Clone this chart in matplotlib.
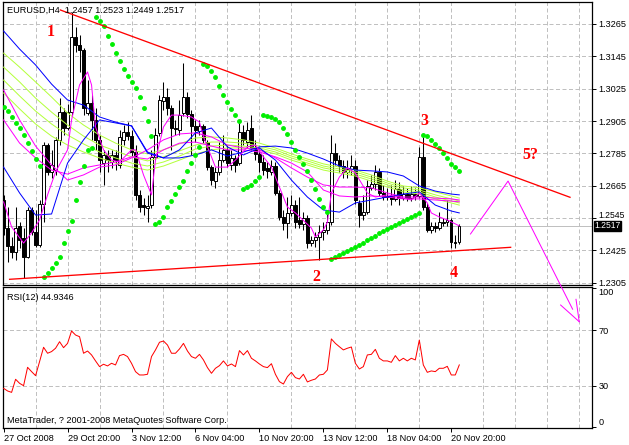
import numpy as np
import matplotlib
matplotlib.use("Agg")
import matplotlib.pyplot as plt
from matplotlib.ticker import MultipleLocator, FuncFormatter
from matplotlib.transforms import blended_transform_factory, ScaledTranslation

plt.rcParams["font.family"] = ["Liberation Sans", "DejaVu Sans"]

# EURUSD H4 bars, 27 Oct 2008 04:00 .. 21 Nov 2008 04:00
opens = [1.2612, 1.2508, 1.2441, 1.2419, 1.2516, 1.2471, 1.2401, 1.2575, 1.2493, 1.2445,
         1.2597, 1.2816, 1.2716, 1.2723, 1.2835, 1.2938, 1.2879, 1.2938, 1.3217, 1.3187,
         1.3168, 1.2935, 1.2972, 1.2909, 1.2835, 1.2749, 1.2779, 1.2753, 1.2779, 1.2742,
         1.2835, 1.2864, 1.2849, 1.2790, 1.2631, 1.2593, 1.2582, 1.2593, 1.2772, 1.2861,
         1.2979, 1.2994, 1.2953, 1.2879, 1.2872, 1.2935, 1.2994, 1.2931, 1.2887, 1.2868,
         1.2887, 1.2827, 1.2734, 1.2682, 1.2716, 1.2760, 1.2798, 1.2742, 1.2768, 1.2749,
         1.2864, 1.2827, 1.2879, 1.2805, 1.2783, 1.2753, 1.2731, 1.2716, 1.2738, 1.2638,
         1.2549, 1.2527, 1.2564, 1.2593, 1.2538, 1.2523, 1.2545, 1.2452, 1.2464, 1.2475,
         1.2493, 1.2501, 1.2530, 1.2786, 1.2760, 1.2738, 1.2716, 1.2727, 1.2738, 1.2601,
         1.2556, 1.2567, 1.2657, 1.2671, 1.2716, 1.2638, 1.2623, 1.2627, 1.2616, 1.2653,
         1.2619, 1.2634, 1.2619, 1.2634, 1.2627, 1.2772, 1.2586, 1.2501, 1.2516, 1.2508,
         1.2530, 1.2530, 1.2538, 1.2456, 1.2457]
highs = [1.2631, 1.2586, 1.2475, 1.2586, 1.2530, 1.2508, 1.2586, 1.2586, 1.2575, 1.2612,
         1.2827, 1.2823, 1.2798, 1.2846, 1.2990, 1.2953, 1.2968, 1.3309, 1.3254, 1.3224,
         1.3176, 1.3057, 1.3002, 1.2953, 1.2853, 1.2798, 1.2798, 1.2798, 1.2798, 1.2872,
         1.2890, 1.2901, 1.2872, 1.2816, 1.2649, 1.2619, 1.2631, 1.2798, 1.2879, 1.3002,
         1.3050, 1.3028, 1.2964, 1.2909, 1.2983, 1.3120, 1.3013, 1.2946, 1.2909, 1.2909,
         1.2894, 1.2835, 1.2742, 1.2734, 1.2827, 1.2853, 1.2816, 1.2798, 1.2779, 1.2909,
         1.2890, 1.2901, 1.2927, 1.2835, 1.2805, 1.2779, 1.2753, 1.2760, 1.2753, 1.2649,
         1.2575, 1.2623, 1.2631, 1.2612, 1.2623, 1.2567, 1.2556, 1.2478, 1.2493, 1.2519,
         1.2530, 1.2560, 1.2853, 1.2823, 1.2779, 1.2760, 1.2760, 1.2779, 1.2760, 1.2612,
         1.2631, 1.2686, 1.2705, 1.2742, 1.2731, 1.2668, 1.2657, 1.2668, 1.2686, 1.2679,
         1.2664, 1.2657, 1.2664, 1.2657, 1.2809, 1.2846, 1.2601, 1.2530, 1.2530, 1.2567,
         1.2545, 1.2612, 1.2545, 1.2482, 1.2523]
lows = [1.2482, 1.2382, 1.2397, 1.2389, 1.2434, 1.2323, 1.2397, 1.2482, 1.2438, 1.2438,
        1.2530, 1.2705, 1.2694, 1.2705, 1.2816, 1.2853, 1.2872, 1.2927, 1.3161, 1.3087,
        1.2927, 1.2927, 1.2835, 1.2798, 1.2716, 1.2668, 1.2716, 1.2731, 1.2723, 1.2731,
        1.2816, 1.2835, 1.2775, 1.2612, 1.2567, 1.2556, 1.2530, 1.2582, 1.2760, 1.2849,
        1.2946, 1.2927, 1.2798, 1.2853, 1.2853, 1.2924, 1.2916, 1.2779, 1.2827, 1.2853,
        1.2823, 1.2723, 1.2668, 1.2657, 1.2705, 1.2753, 1.2734, 1.2723, 1.2716, 1.2742,
        1.2816, 1.2805, 1.2798, 1.2760, 1.2716, 1.2705, 1.2694, 1.2705, 1.2631, 1.2538,
        1.2501, 1.2471, 1.2553, 1.2508, 1.2508, 1.2501, 1.2434, 1.2441, 1.2438, 1.2389,
        1.2464, 1.2486, 1.2519, 1.2742, 1.2716, 1.2694, 1.2694, 1.2705, 1.2597, 1.2512,
        1.2538, 1.2560, 1.2649, 1.2649, 1.2627, 1.2612, 1.2612, 1.2593, 1.2608, 1.2593,
        1.2612, 1.2608, 1.2608, 1.2612, 1.2619, 1.2575, 1.2493, 1.2490, 1.2493, 1.2501,
        1.2516, 1.2516, 1.2434, 1.2434, 1.2449]
closes = [1.2508, 1.2441, 1.2419, 1.2508, 1.2464, 1.2401, 1.2575, 1.2493, 1.2445, 1.2597,
          1.2816, 1.2716, 1.2742, 1.2835, 1.2938, 1.2879, 1.2938, 1.3217, 1.3187, 1.3168,
          1.2953, 1.2972, 1.2909, 1.2835, 1.2760, 1.2779, 1.2760, 1.2779, 1.2760, 1.2846,
          1.2864, 1.2849, 1.2790, 1.2631, 1.2586, 1.2586, 1.2590, 1.2772, 1.2853, 1.2983,
          1.2994, 1.2953, 1.2879, 1.2875, 1.2927, 1.2994, 1.2931, 1.2887, 1.2872, 1.2887,
          1.2835, 1.2734, 1.2686, 1.2716, 1.2760, 1.2798, 1.2749, 1.2768, 1.2742, 1.2864,
          1.2835, 1.2872, 1.2805, 1.2783, 1.2753, 1.2723, 1.2720, 1.2738, 1.2638, 1.2549,
          1.2527, 1.2564, 1.2593, 1.2530, 1.2523, 1.2545, 1.2452, 1.2464, 1.2475, 1.2493,
          1.2501, 1.2530, 1.2786, 1.2760, 1.2738, 1.2716, 1.2727, 1.2738, 1.2612, 1.2556,
          1.2567, 1.2664, 1.2671, 1.2716, 1.2638, 1.2623, 1.2627, 1.2616, 1.2653, 1.2619,
          1.2634, 1.2619, 1.2634, 1.2627, 1.2772, 1.2586, 1.2501, 1.2516, 1.2508, 1.2530,
          1.2527, 1.2538, 1.2456, 1.2452, 1.2517]

# Parabolic SAR, one dot per bar
sar = [1.2957, 1.2942, 1.2920, 1.2898, 1.2879, 1.2853, 1.2823, 1.2794, 1.2764, 1.2738,
       1.2326, 1.2341, 1.2360, 1.2378, 1.2401, 1.2452, 1.2497, 1.2534, 1.2612, 1.2679,
       1.2738, 1.2798, 1.2805, 1.3291, 1.3276, 1.3258, 1.3220, 1.3191, 1.3157, 1.3128,
       1.3098, 1.3072, 1.3050, 1.3027, 1.2994, 1.2953, 1.2905, 1.2849, 1.2523, 1.2530,
       1.2549, 1.2586, 1.2608, 1.2634, 1.2660, 1.2682, 1.2720, 1.2749, 1.2779, 1.2809,
       1.3117, 1.3109, 1.3091, 1.3068, 1.3035, 1.3002, 1.2976, 1.2950, 1.2927, 1.2905,
       1.2653, 1.2660, 1.2668, 1.2682, 1.2697, 1.2927, 1.2924, 1.2920, 1.2912, 1.2901,
       1.2879, 1.2857, 1.2827, 1.2798, 1.2772, 1.2746, 1.2720, 1.2686, 1.2653, 1.2616,
       1.2586, 1.2567, 1.2393, 1.2401, 1.2408, 1.2415, 1.2423, 1.2430, 1.2438, 1.2445,
       1.2452, 1.2464, 1.2471, 1.2478, 1.2490, 1.2497, 1.2504, 1.2512, 1.2519, 1.2527,
       1.2534, 1.2542, 1.2549, 1.2556, 1.2564, 1.2853, 1.2849, 1.2835, 1.2820, 1.2805,
       1.2786, 1.2768, 1.2746, 1.2734, 1.2720]

# moving averages read every 4th bar
ma_bars = [0, 4, 8, 12, 16, 20, 24, 28, 32, 36, 40, 44, 48, 52, 56, 60, 64, 68, 72, 76,
           80, 84, 88, 92, 96, 100, 104, 108, 112, 114]
blue_slow = [1.3239, 1.3172, 1.3113, 1.3042, 1.2983, 1.2964, 1.2920, 1.2901, 1.2887, 1.2790,
             1.2768, 1.2768, 1.2779, 1.2798, 1.2775, 1.2790, 1.2809, 1.2812, 1.2805, 1.2786,
             1.2764, 1.2738, 1.2723, 1.2720, 1.2716, 1.2701, 1.2664, 1.2645, 1.2634, 1.2631]
blue_fast = [1.2734, 1.2638, 1.2556, 1.2560, 1.2749, 1.2835, 1.2909, 1.2898, 1.2887, 1.2786,
             1.2768, 1.2798, 1.2861, 1.2879, 1.2809, 1.2779, 1.2805, 1.2760, 1.2686, 1.2623,
             1.2575, 1.2567, 1.2601, 1.2612, 1.2623, 1.2634, 1.2642, 1.2593, 1.2571, 1.2564]
yg_1 = [1.3157, 1.3105, 1.3050, 1.2994, 1.2935, 1.2890, 1.2853, 1.2823, 1.2798, 1.2783,
        1.2798, 1.2820, 1.2842, 1.2846, 1.2842, 1.2835, 1.2823, 1.2805, 1.2783, 1.2764,
        1.2746, 1.2734, 1.2723, 1.2705, 1.2682, 1.2664, 1.2657, 1.2642, 1.2627, 1.2619]
yg_2 = [1.3105, 1.3050, 1.2990, 1.2938, 1.2890, 1.2849, 1.2816, 1.2794, 1.2772, 1.2757,
        1.2772, 1.2794, 1.2816, 1.2827, 1.2827, 1.2823, 1.2812, 1.2798, 1.2775, 1.2757,
        1.2738, 1.2727, 1.2716, 1.2697, 1.2675, 1.2657, 1.2649, 1.2631, 1.2616, 1.2608]
yg_3 = [1.3057, 1.2998, 1.2942, 1.2894, 1.2853, 1.2820, 1.2790, 1.2768, 1.2749, 1.2738,
        1.2753, 1.2775, 1.2801, 1.2812, 1.2816, 1.2812, 1.2805, 1.2790, 1.2768, 1.2749,
        1.2731, 1.2720, 1.2708, 1.2690, 1.2668, 1.2649, 1.2642, 1.2623, 1.2608, 1.2601]
yg_4 = [1.3009, 1.2950, 1.2894, 1.2849, 1.2816, 1.2790, 1.2768, 1.2749, 1.2734, 1.2723,
        1.2738, 1.2760, 1.2783, 1.2798, 1.2805, 1.2805, 1.2798, 1.2783, 1.2760, 1.2742,
        1.2723, 1.2712, 1.2701, 1.2682, 1.2660, 1.2642, 1.2634, 1.2616, 1.2601, 1.2593]
mag_1 = [1.3020, 1.2909, 1.2812, 1.2742, 1.2686, 1.2705, 1.2734, 1.2742, 1.2768, 1.2798,
         1.2835, 1.2857, 1.2861, 1.2846, 1.2816, 1.2805, 1.2798, 1.2768, 1.2731, 1.2697,
         1.2668, 1.2660, 1.2660, 1.2657, 1.2638, 1.2623, 1.2623, 1.2619, 1.2616, 1.2612]
mag_2 = [1.2909, 1.2823, 1.2768, 1.2723, 1.2708, 1.2731, 1.2742, 1.2753, 1.2772, 1.2764,
         1.2798, 1.2823, 1.2827, 1.2812, 1.2798, 1.2798, 1.2790, 1.2772, 1.2749, 1.2716,
         1.2649, 1.2627, 1.2623, 1.2627, 1.2623, 1.2616, 1.2616, 1.2612, 1.2608, 1.2605]

# fast magenta average, read at its turning points
fast_bars = [0, 2, 5, 7, 9, 11, 13, 16, 17, 19, 21, 22, 23, 25, 27, 29, 32, 33, 35, 37,
             38, 40, 42, 44, 47, 49, 50, 52, 53, 56, 58, 61, 63, 65, 67, 69, 71, 73, 77, 78,
             80, 81, 82, 84, 86, 88, 91, 93, 96, 99, 102, 104, 106, 107, 109, 111, 114]
fast_ma = [1.2605, 1.2512, 1.2452, 1.2490, 1.2538, 1.2631, 1.2716, 1.2798, 1.2909, 1.3039,
           1.3087, 1.3039, 1.2883, 1.2798, 1.2760, 1.2753, 1.2798, 1.2798, 1.2705, 1.2631,
           1.2760, 1.2883, 1.2927, 1.2927, 1.2920, 1.2901, 1.2846, 1.2772, 1.2734, 1.2734,
           1.2760, 1.2809, 1.2816, 1.2772, 1.2734, 1.2660, 1.2586, 1.2564, 1.2508, 1.2475,
           1.2501, 1.2530, 1.2638, 1.2697, 1.2731, 1.2712, 1.2638, 1.2623, 1.2631, 1.2623,
           1.2612, 1.2638, 1.2601, 1.2564, 1.2549, 1.2538, 1.2516]

rsi = [28.1, 26.2, 25.2, 34.6, 31.7, 30.0, 43.2, 40.1, 37.2, 47.3,
       57.6, 53.3, 54.5, 56.9, 61.6, 57.3, 60.4, 69.3, 66.4, 65.2,
       53.3, 54.9, 52.1, 47.8, 43.7, 45.4, 44.2, 46.1, 44.9, 51.6,
       52.5, 50.9, 46.1, 40.1, 37.7, 37.7, 38.2, 50.9, 55.7, 61.2,
       62.1, 59.2, 53.3, 53.3, 56.4, 60.4, 54.9, 50.9, 49.7, 52.5,
       48.5, 43.0, 38.9, 42.5, 44.4, 47.8, 44.2, 45.6, 43.7, 55.2,
       52.1, 55.2, 49.7, 47.8, 45.6, 43.7, 43.0, 45.8, 38.2, 32.9,
       31.2, 36.5, 39.6, 35.8, 34.8, 38.2, 32.7, 33.9, 34.8, 37.7,
       38.2, 41.3, 63.6, 60.4, 58.0, 55.7, 56.9, 57.8, 46.1, 42.0,
       43.7, 52.1, 52.5, 56.1, 49.7, 47.8, 47.8, 46.8, 51.6, 47.8,
       49.7, 47.8, 49.7, 48.5, 62.8, 44.9, 39.6, 40.6, 40.1, 42.5,
       42.5, 43.9, 37.7, 37.7, 44.93]

# hand drawn objects (bar index, price)
upper_trend = ([14.2, 141.7], [1.33169, 1.26220])
lower_trend = ([1.5, 126.85], [1.23177, 1.24364])
zigzag = ([116.8, 126.2, 142.35], [1.24858, 1.26822, 1.22068])
arrow_left = ([139.35, 144.0], [1.22223, 1.21604])
arrow_right = ([143.2, 144.0], [1.22434, 1.21604])
wave_labels = [("1", 11.7, 1.32335), ("2", 78.2, 1.23244), ("3", 105.3, 1.29069),
               ("4", 112.7, 1.23411), ("5?", 131.7, 1.27789)]

price_ticks = [1.2305, 1.2425, 1.2545, 1.2665, 1.2785, 1.2905, 1.3025, 1.3145, 1.3265]
last_price = 1.2517
date_ticks = [0, 16, 32, 48, 64, 80, 96, 112]
date_labels = ["27 Oct 2008", "29 Oct 20:00", "3 Nov 12:00", "6 Nov 04:00",
               "10 Nov 20:00", "13 Nov 12:00", "18 Nov 04:00", "20 Nov 20:00"]

GRID = "#c0c0c0"
DASH = (0, (4, 2.5))
LW = 0.72
TXT = 6.6

fig = plt.figure(figsize=(6.29, 4.45), dpi=100)
ax = fig.add_axes([3 / 629, 1 - 284.5 / 445, 589 / 629, 282.5 / 445])
rs = fig.add_axes([3 / 629, 1 - 428 / 445, 589 / 629, 141 / 445])
ax.set_zorder(3)
rs.set_zorder(1)
ax.patch.set_alpha(0)

x = np.arange(len(closes))
o, h, l, c = (np.array(v) for v in (opens, highs, lows, closes))

for a in (ax, rs):
    a.set_xlim(-0.15, 147.2)
    a.xaxis.set_minor_locator(MultipleLocator(8))
    a.grid(which="minor", axis="x", color=GRID, lw=LW, linestyle=DASH, zorder=0)
    a.tick_params(which="minor", length=0)
    for s in a.spines.values():
        s.set_linewidth(0.9)
    a.set_axisbelow(True)

# price panel
ax.set_ylim(1.22984, 1.33466)
ax.yaxis.tick_right()
ax.set_yticks(price_ticks)
ax.yaxis.set_major_formatter(FuncFormatter(lambda v, p: f"{v:.4f}"))
ax.tick_params(axis="y", which="major", length=3, width=0.7, pad=1.5, labelsize=TXT)
ax.tick_params(axis="x", which="both", bottom=False, labelbottom=False)
ax.grid(which="major", axis="y", color=GRID, lw=LW, linestyle=DASH, zorder=0)
ax.axhline(last_price, color=GRID, lw=LW, zorder=1)

# the scale label next to the current price is pushed up, as the terminal does
for lbl, val in zip(ax.get_yticklabels(), price_ticks):
    if abs(val - last_price) < 0.004:
        lbl.set_transform(lbl.get_transform() + ScaledTranslation(0, 0.035, fig.dpi_scale_trans))
        lbl.set_fontsize(6.2)

ax.vlines(x, l, h, color="black", lw=0.75, zorder=2)
up = c >= o
ax.bar(x, np.maximum(np.abs(c - o), 0.00002), bottom=np.minimum(o, c), width=0.6,
       color=np.where(up, "white", "black"), edgecolor="black", linewidth=0.7, zorder=3)

for series, col in ((yg_4, "#b4ff3c"), (yg_3, "#b4ff3c"), (yg_2, "#b4ff3c"), (yg_1, "#b4ff3c"),
                    (mag_2, "#ff00ff"), (mag_1, "#ff00ff"),
                    (blue_slow, "#0000ff"), (blue_fast, "#0000ff")):
    ax.plot(ma_bars, series, color=col, lw=LW, zorder=4)
ax.plot(fast_bars, fast_ma, color="#ff00ff", lw=LW, zorder=4)

ax.plot(x, sar, linestyle="none", marker="o", ms=2.5, color="#00ee00", mec="#00ee00", zorder=5)

ax.plot(*upper_trend, color="#ff0000", lw=0.95, zorder=6)
ax.plot(*lower_trend, color="#ff0000", lw=0.95, zorder=6)
for seg in (zigzag, arrow_left, arrow_right):
    ax.plot(*seg, color="#ff00ff", lw=LW, zorder=6, clip_on=False)

for txt, bx, by in wave_labels:
    ax.text(bx, by, txt, color="#ff0000", fontsize=11.5, fontweight="bold",
            family=["Liberation Serif", "DejaVu Serif"], ha="center", va="center", zorder=7)

ax.text(0.006, 0.9717, "EURUSD,H4  1.2457 1.2523 1.2449 1.2517", transform=ax.transAxes,
        fontsize=TXT, va="center", ha="left", zorder=7)

# current price box on the scale
trans = blended_transform_factory(ax.transAxes, ax.transData)
ax.text(1.004, last_price, "1.2517", transform=trans, color="white", fontsize=6.2,
        va="center", ha="left", zorder=8, clip_on=False,
        bbox=dict(boxstyle="square,pad=0.06", fc="black", ec="black"))

# RSI panel
rs.set_ylim(-0.4, 100.9)
rs.plot(x, rsi, color="#ff0000", lw=LW, zorder=3)
for lvl in (30, 70):
    rs.axhline(lvl, color=GRID, lw=LW, linestyle=DASH, zorder=0)
rs.yaxis.tick_right()
rs.set_yticks([0, 30, 70, 100])
rs.set_yticklabels(["0", "30", "70", "100"])
rs.tick_params(axis="y", which="major", length=3, width=0.7, pad=1.5, labelsize=TXT)
rs.get_yticklabels()[0].set_va("bottom")
rs.get_yticklabels()[3].set_va("top")
rs.set_xticks(date_ticks)
rs.set_xticklabels(date_labels)
rs.tick_params(axis="x", which="major", length=3, width=0.7, pad=1.5, labelsize=TXT)
for lbl in rs.get_xticklabels():
    lbl.set_ha("left")

rs.text(0.006, 0.922, "RSI(12) 44.9346", transform=rs.transAxes, fontsize=TXT, va="center")
rs.text(0.006, 0.053, "MetaTrader, ? 2001-2008 MetaQuotes Software Corp.",
        transform=rs.transAxes, fontsize=TXT, va="center")

fig.savefig("out.png", dpi=100, facecolor="white")
